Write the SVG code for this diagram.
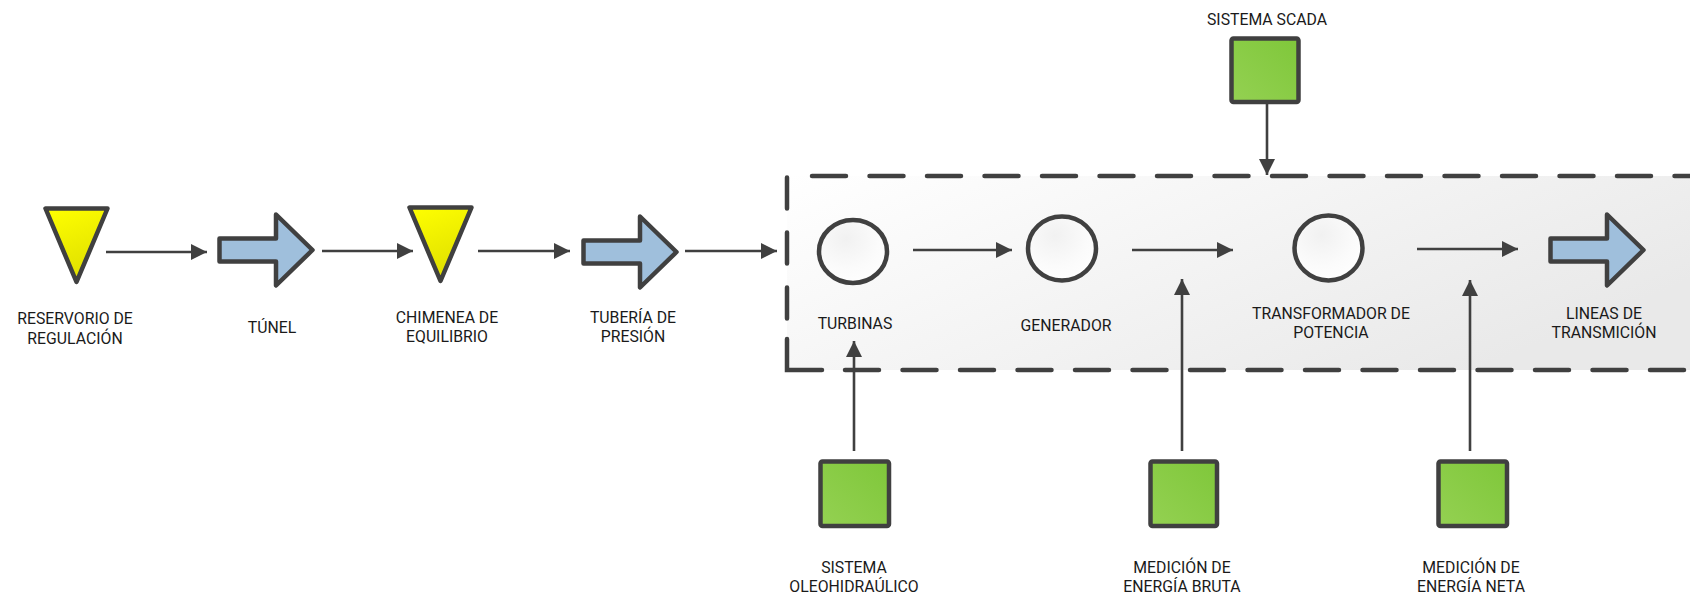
<svg xmlns="http://www.w3.org/2000/svg" xmlns:xlink="http://www.w3.org/1999/xlink" width="1690" height="597" viewBox="0 0 1690 597">
  <defs>
    <linearGradient id="gPanel" x1="0" y1="0" x2="1" y2="0.5">
      <stop offset="0" stop-color="#ffffff"/>
      <stop offset="1" stop-color="#e9e9e9"/>
    </linearGradient>
    <linearGradient id="gYellow" x1="0" y1="0" x2="0.3" y2="1">
      <stop offset="0" stop-color="#ffff00"/>
      <stop offset="1" stop-color="#e0e000"/>
    </linearGradient>
    <linearGradient id="gGreen" x1="0" y1="1" x2="1" y2="0">
      <stop offset="0" stop-color="#94d152"/>
      <stop offset="1" stop-color="#7fc73a"/>
    </linearGradient>
    <radialGradient id="gCircle" cx="0.4" cy="0.3" r="0.8">
      <stop offset="0" stop-color="#f1f1f1"/>
      <stop offset="0.6" stop-color="#fbfbfb"/>
      <stop offset="1" stop-color="#ffffff"/>
    </radialGradient>
    <marker id="head" markerUnits="userSpaceOnUse" markerWidth="17" markerHeight="16" refX="16" refY="8" orient="auto">
      <path d="M0,0 L16,8 L0,16 Z" fill="#404040"/>
    </marker>
    <!-- block arrow, left edge at x=0, centred on y=0 -->
    <path id="blockArrow" d="M2.5,-11.5 H59 V-35.5 L95.5,0 L59,35.5 V11.5 H2.5 Z"/>
    <!-- downward triangle, centred on x=0, top at y=0 -->
    <path id="tri" d="M-31,2.5 H31 L0,76 Z"/>
  </defs>
  <style>
    .lbl { font-family: Roboto, "Liberation Sans", sans-serif; font-size: 15.8px; fill: #1a1a1a; text-anchor: middle; }
    .edge { stroke: #404040; stroke-width: 2.6; fill: none; marker-end: url(#head); }
    .dash { stroke: #404040; stroke-width: 4.5; fill: none; stroke-linecap: round; }
    .blue { fill: #9fbfdc; stroke: #404040; stroke-width: 4.5; stroke-linejoin: round; }
    .yellow { fill: url(#gYellow); stroke: #404040; stroke-width: 4.5; stroke-linejoin: round; }
    .circle { fill: url(#gCircle); stroke: #404040; stroke-width: 4.5; }
    .box { fill: url(#gGreen); stroke: #404040; stroke-width: 4.5; }
  </style>

  <rect width="1690" height="597" fill="#ffffff"/>

  <!-- powerhouse boundary -->
  <g id="powerhouse">
    <rect x="787" y="176" width="920" height="194" fill="url(#gPanel)"/>
    <path class="dash" d="M787,177.5 V320" stroke-dasharray="31 24"/>
    <path class="dash" d="M787,339 V370 H822"/>
    <path class="dash" d="M812,176 H1700" stroke-dasharray="34 23.5"/>
    <path class="dash" d="M845,370 H1700" stroke-dasharray="34 23.5"/>
  </g>

  <g id="connectors">
    <line class="edge" x1="106" y1="252" x2="207" y2="252"/>
    <line class="edge" x1="322" y1="251" x2="413" y2="251"/>
    <line class="edge" x1="478" y1="251" x2="570" y2="251"/>
    <line class="edge" x1="685" y1="251" x2="777" y2="251"/>
    <line class="edge" x1="913" y1="250" x2="1012" y2="250"/>
    <line class="edge" x1="1132" y1="250" x2="1233" y2="250"/>
    <line class="edge" x1="1417" y1="249" x2="1518" y2="249"/>
    <line class="edge" x1="1267" y1="104" x2="1267" y2="175"/>
    <line class="edge" x1="854" y1="451" x2="854" y2="341"/>
    <line class="edge" x1="1182" y1="451" x2="1182" y2="279"/>
    <line class="edge" x1="1470" y1="451" x2="1470" y2="280"/>
  </g>

  <g id="reservorio">
    <use xlink:href="#tri" class="yellow" transform="translate(76.5,206)"/>
    <text class="lbl" x="75" y="324">RESERVORIO DE</text>
    <text class="lbl" x="75" y="344">REGULACIÓN</text>
  </g>

  <g id="tunel">
    <use xlink:href="#blockArrow" class="blue" transform="translate(217,250)"/>
    <text class="lbl" x="272" y="333">TÚNEL</text>
  </g>

  <g id="chimenea">
    <use xlink:href="#tri" class="yellow" transform="translate(440.5,205)"/>
    <text class="lbl" x="447" y="323">CHIMENEA DE</text>
    <text class="lbl" x="447" y="342">EQUILIBRIO</text>
  </g>

  <g id="tuberia">
    <use xlink:href="#blockArrow" class="blue" transform="translate(581,252)"/>
    <text class="lbl" x="633" y="323">TUBERÍA DE</text>
    <text class="lbl" x="633" y="342">PRESIÓN</text>
  </g>

  <g id="turbinas">
    <ellipse class="circle" cx="853" cy="251.5" rx="34" ry="31.5"/>
    <text class="lbl" x="855" y="329">TURBINAS</text>
  </g>

  <g id="generador">
    <ellipse class="circle" cx="1062" cy="248.5" rx="34" ry="32"/>
    <text class="lbl" x="1066" y="331">GENERADOR</text>
  </g>

  <g id="transformador">
    <ellipse class="circle" cx="1328.5" cy="248" rx="34" ry="32.5"/>
    <text class="lbl" x="1331" y="319">TRANSFORMADOR DE</text>
    <text class="lbl" x="1331" y="338">POTENCIA</text>
  </g>

  <g id="lineas">
    <use xlink:href="#blockArrow" class="blue" transform="translate(1548,250)"/>
    <text class="lbl" x="1604" y="319">LINEAS DE</text>
    <text class="lbl" x="1604" y="338">TRANSMICIÓN</text>
  </g>

  <g id="scada">
    <rect class="box" x="1231.5" y="38.5" width="67" height="63.5" rx="2"/>
    <text class="lbl" x="1267" y="25">SISTEMA SCADA</text>
  </g>

  <g id="oleohidraulico">
    <rect class="box" x="820.5" y="461.5" width="68.5" height="64.5" rx="2"/>
    <text class="lbl" x="854" y="573">SISTEMA</text>
    <text class="lbl" x="854" y="592">OLEOHIDRAÚLICO</text>
  </g>

  <g id="energia-bruta">
    <rect class="box" x="1150.5" y="461.5" width="66.5" height="64.5" rx="2"/>
    <text class="lbl" x="1182" y="573">MEDICIÓN DE</text>
    <text class="lbl" x="1182" y="592">ENERGÍA BRUTA</text>
  </g>

  <g id="energia-neta">
    <rect class="box" x="1438.5" y="461.5" width="68.5" height="64.5" rx="2"/>
    <text class="lbl" x="1471" y="573">MEDICIÓN DE</text>
    <text class="lbl" x="1471" y="592">ENERGÍA NETA</text>
  </g>
</svg>
